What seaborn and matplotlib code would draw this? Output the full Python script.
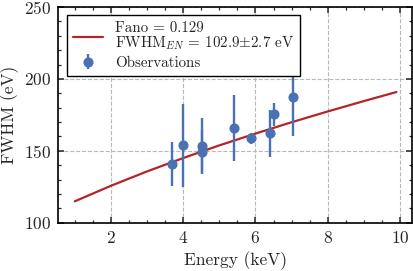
import numpy as np
import pandas as pd
import seaborn as sns
import matplotlib
matplotlib.use("Agg")
import matplotlib.pyplot as plt
from matplotlib.ticker import MultipleLocator

# Observations
energy_kev = [3.70, 4.00, 4.51, 4.51, 5.41, 5.88, 6.39, 6.50, 7.05]
fwhm_ev = [140.8, 153.8, 153.3, 149.4, 165.8, 158.6, 162.2, 175.6, 187.5]
fwhm_err = [15.5, 29.0, 19.7, 15.0, 23.0, 4.0, 16.3, 8.0, 27.0]

# Fitted Fano curve
curve_e = [1.0, 2.0, 3.0, 4.0, 5.0, 6.0, 7.0, 8.0, 9.0, 9.9]
curve_fwhm = [114.9, 125.7, 135.7, 145.0, 153.8, 162.0, 169.9, 177.4, 184.6, 190.9]

fit_label = "Fano = 0.129\nFWHM$_{EN}$ = 102.9$\\pm$2.7 eV"
obs_label = "Observations"

sns.set_style("ticks")
plt.rcParams.update({
    "font.family": "serif",
    "font.serif": ["cmr10"],
    "mathtext.fontset": "cm",
    "axes.formatter.use_mathtext": True,
    "axes.unicode_minus": False,
    "xtick.direction": "in",
    "ytick.direction": "in",
    "xtick.top": True,
    "ytick.right": True,
    "xtick.minor.visible": True,
    "ytick.minor.visible": True,
    "axes.linewidth": 1.2,
    "xtick.major.width": 1.1,
    "ytick.major.width": 1.1,
    "xtick.minor.width": 0.9,
    "ytick.minor.width": 0.9,
    "xtick.major.size": 4,
    "ytick.major.size": 4,
    "xtick.minor.size": 2.2,
    "ytick.minor.size": 2.2,
    "axes.edgecolor": "black",
})

red = "#b5242a"
blue = "#4a72b3"

fig = plt.figure(figsize=(4.14, 2.71), dpi=100)
ax = fig.add_axes([0.1413, 0.178, 0.8537, 0.796])

curve_df = pd.DataFrame({"E": curve_e, "F": curve_fwhm})
sns.lineplot(data=curve_df, x="E", y="F", ax=ax, color=red, lw=1.6,
             label=fit_label, zorder=3)
ax.errorbar(energy_kev, fwhm_ev, yerr=fwhm_err, fmt="o", color=blue,
            ms=6.3, elinewidth=1.7, capsize=0, label=obs_label, zorder=4)

ax.set_xlim(0.55, 10.33)
ax.set_ylim(100, 250)
ax.xaxis.set_major_locator(MultipleLocator(2))
ax.xaxis.set_minor_locator(MultipleLocator(0.5))
ax.yaxis.set_major_locator(MultipleLocator(50))
ax.yaxis.set_minor_locator(MultipleLocator(10))
ax.grid(True, which="major", ls="--", color="#b8b8b8", lw=0.8)
ax.tick_params(labelsize=12.5, pad=5)

ax.set_xlabel("Energy (keV)", fontsize=12.5, labelpad=4)
ax.set_ylabel("FWHM (eV)", fontsize=12.5, labelpad=4)

leg = ax.legend(loc="upper left", fontsize=10.8, frameon=True, fancybox=False,
                edgecolor="black", framealpha=1.0, handlelength=2.0,
                handletextpad=0.8, borderaxespad=0.55, labelspacing=0.3)
leg.get_frame().set_linewidth(1.0)
leg.set_zorder(10)
for t in leg.get_texts():
    t.set_linespacing(0.95)

fig.savefig("out.png", dpi=100)
